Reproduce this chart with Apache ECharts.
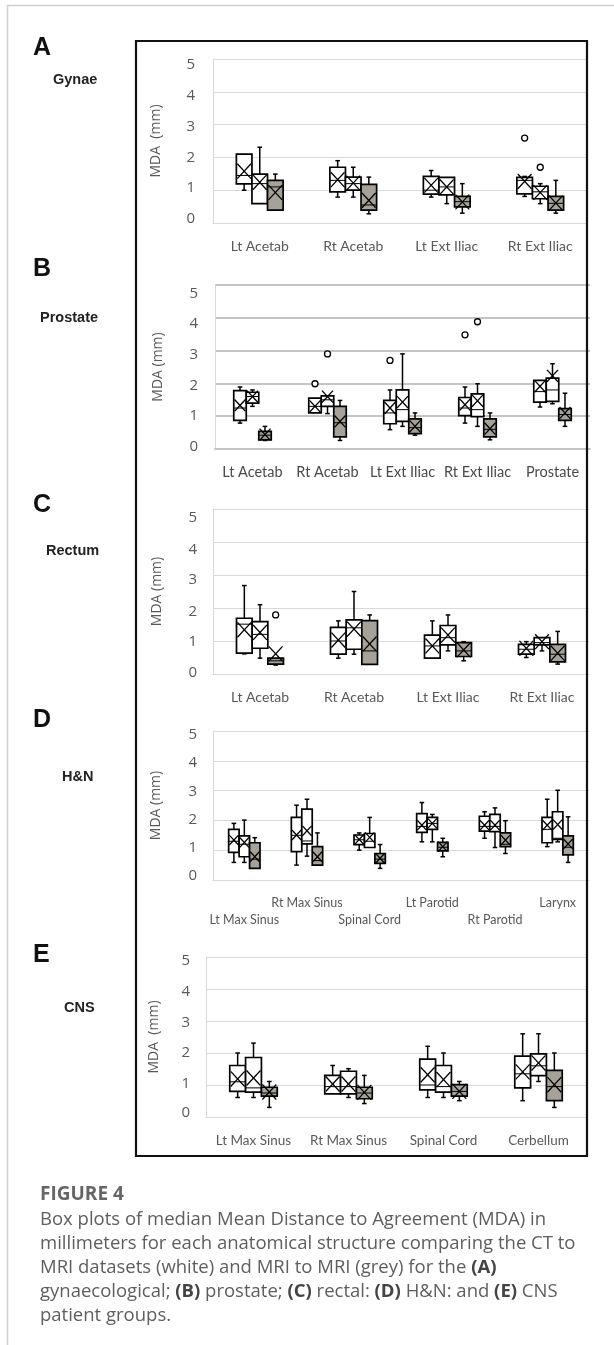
<!DOCTYPE html>
<html>
<head>
<meta charset="utf-8">
<script src="https://cdn.jsdelivr.net/npm/echarts@6/dist/echarts.min.js"></script>
<style>
  html, body { margin:0; padding:0; background:#fff; }
  #wrap { position:relative; width:614px; height:1345px; overflow:hidden; }
  #chart { position:absolute; left:0; top:0; width:614px; height:1345px; }
  #cap { position:absolute; left:40px; top:1180px; font-family:'Open Sans', sans-serif; color:#5e5e5e; pointer-events:none; }
  #cap .t { font-weight:700; font-size:19px; line-height:26px; color:#666; }
  #cap .b { font-size:18.5px; line-height:24px; white-space:nowrap; }
  #cap b { color:#444; }
</style>
</head>
<body>
<div id="wrap">
  <div id="chart"></div>
  <div id="cap">
    <div class="t">FIGURE 4</div>
    <div class="b">Box plots of median Mean Distance to Agreement (MDA) in<br>millimeters for each anatomical structure comparing the CT to<br>MRI datasets (white) and MRI to MRI (grey) for the <b>(A)</b><br>gynaecological; <b>(B)</b> prostate; <b>(C)</b> rectal: <b>(D)</b> H&amp;N: and <b>(E)</b> CNS<br>patient groups.</div>
  </div>
</div>
<script>
// ---- DATA: each box = [min, q1, median, q3, max, mean] ----
const yTicks = [0, 1, 2, 3, 4, 5];

// (A) Gynae
const gynaeCats = ['Lt Acetab', 'Rt Acetab', 'Lt Ext Iliac', 'Rt Ext Iliac'];
const gynaeCtMriA = [[1.00,1.19,1.45,2.10,2.10,1.58],[0.79,0.95,1.30,1.70,1.90,1.32],[0.79,0.88,1.00,1.42,1.60,1.15],[0.81,0.89,1.30,1.39,1.42,1.27]];
const gynaeCtMriB = [[0.59,0.59,1.20,1.49,2.31,1.24],[0.79,1.00,1.20,1.40,1.70,1.22],[0.59,0.86,1.10,1.39,1.39,1.10],[0.59,0.74,0.95,1.12,1.20,0.93]];
const gynaeMriMri = [[0.39,0.39,1.10,1.30,1.49,0.93],[0.28,0.39,0.55,1.18,1.40,0.69],[0.30,0.49,0.65,0.81,1.20,0.64],[0.30,0.39,0.60,0.81,1.30,0.61]];
const gynaeOutliers = [[3,0,2.59],[3,1,1.70]]; // [category, box, value]

// (B) Prostate
const prostateCats = ['Lt Acetab', 'Rt Acetab', 'Lt Ext Iliac', 'Rt Ext Iliac', 'Prostate'];
const prostateCtMriA = [[0.79,0.87,1.25,1.78,1.89,1.33],[1.10,1.10,1.30,1.55,1.55,1.30],[0.59,0.77,1.10,1.48,1.80,1.25],[0.79,1.02,1.25,1.57,1.89,1.35],[1.28,1.43,1.75,2.09,2.09,1.91]];
const prostateCtMriB = [[1.30,1.40,1.60,1.73,1.80,1.60],[1.08,1.30,1.50,1.62,1.62,1.60],[0.69,0.84,1.20,1.80,2.90,1.43],[0.69,0.99,1.20,1.68,1.99,1.47],[1.38,1.45,1.80,2.16,2.60,2.23]];
const prostateMriMri = [[0.26,0.28,0.42,0.54,0.69,0.44],[0.26,0.37,0.80,1.30,1.48,0.84],[0.42,0.47,0.65,0.92,1.10,0.69],[0.28,0.37,0.60,0.92,1.10,0.62],[0.69,0.87,1.05,1.23,1.70,1.10]];
const prostateOutliers = [[1,0,1.99],[1,1,2.90],[2,0,2.70],[3,0,3.48],[3,1,3.88]];

// (C) Rectum
const rectumCats = ['Lt Acetab', 'Rt Acetab', 'Lt Ext Iliac', 'Rt Ext Iliac'];
const rectumCtMriA = [[0.61,0.63,1.51,1.69,2.68,1.34],[0.48,0.60,1.00,1.41,1.61,1.03],[0.48,0.48,0.85,1.18,1.61,0.85],[0.50,0.60,0.75,0.90,0.98,0.78]];
const rectumCtMriB = [[0.48,0.78,1.20,1.59,2.10,1.26],[0.60,0.75,1.40,1.64,2.50,1.36],[0.70,0.88,1.10,1.47,1.79,1.18],[0.70,0.88,0.95,1.10,1.10,0.98]];
const rectumMriMri = [[0.27,0.30,0.40,0.48,0.48,0.61],[0.29,0.29,0.70,1.62,1.79,0.91],[0.40,0.53,0.70,0.95,0.98,0.73],[0.30,0.37,0.60,0.90,1.29,0.63]];
const rectumOutliers = [[0,2,1.79]];

// (D) H&N
const hnCats = ['Lt Max Sinus', 'Rt Max Sinus', 'Spinal Cord', 'Lt Parotid', 'Rt Parotid', 'Larynx'];
const hnCtMriA = [[0.59,0.93,1.30,1.70,1.90,1.34],[0.50,0.95,1.50,2.10,2.51,1.51],[1.00,1.19,1.35,1.51,1.58,1.36],[1.28,1.60,1.80,2.23,2.60,1.84],[1.40,1.64,1.80,2.14,2.29,1.84],[1.12,1.25,1.70,2.10,2.71,1.84]];
const hnCtMriB = [[0.59,0.78,1.20,1.48,2.01,1.26],[0.80,1.21,1.31,2.38,2.71,1.65],[1.09,1.09,1.30,1.56,2.10,1.43],[1.28,1.70,1.90,2.10,2.20,1.90],[1.09,1.62,1.80,2.20,2.42,1.84],[1.28,1.36,1.40,2.29,3.01,1.86]];
const hnMriMri = [[0.39,0.39,0.70,1.25,1.42,0.78],[0.50,0.50,0.65,1.12,1.58,0.78],[0.39,0.56,0.70,0.89,1.19,0.73],[0.78,0.98,1.10,1.26,1.40,1.12],[0.89,1.12,1.20,1.58,1.99,1.34],[0.59,0.84,1.10,1.48,2.12,1.21]];
const hnOutliers = [];

// (E) CNS
const cnsCats = ['Lt Max Sinus', 'Rt Max Sinus', 'Spinal Cord', 'Cerbellum'];
const cnsCtMriA = [[0.61,0.80,1.10,1.61,2.00,1.19],[0.72,0.72,0.95,1.30,1.61,1.03],[0.61,0.85,1.00,1.81,2.21,1.32],[0.51,0.91,1.35,1.90,2.60,1.41]];
const cnsCtMriB = [[0.61,0.78,0.91,1.86,2.31,1.22],[0.61,0.72,0.95,1.43,1.51,1.03],[0.61,0.78,0.95,1.61,2.00,1.17],[1.11,1.29,1.60,1.97,2.60,1.69]];
const cnsMriMri = [[0.30,0.65,0.75,0.93,1.11,0.78],[0.42,0.57,0.75,0.93,1.30,0.77],[0.51,0.65,0.80,1.01,1.11,0.80],[0.30,0.51,0.95,1.46,2.00,1.01]];
const cnsOutliers = [];

// ---- LAYOUT / STYLE ----
const panels = [
  { cats: gynaeCats, sets: [gynaeCtMriA, gynaeCtMriB, gynaeMriMri], out: gynaeOutliers,
    grid: { left: 213, top: 59, width: 374, height: 164 }, yName: 'MDA  (mm)', nameGap: 50, yMargin: 18,
    tickShift: [-4, -2.3, 0, 1.7, 3.7, 5.7], split: { color: '#d9d9d9', width: 1 }, catSize: 14, catColor: '#595959', stagger: false },
  { cats: prostateCats, sets: [prostateCtMriA, prostateCtMriB, prostateMriMri], out: prostateOutliers,
    grid: { left: 215, top: 285, width: 375, height: 164 }, yName: 'MDA (mm)', nameGap: 50, yMargin: 17,
    tickShift: [-2.7, -0.7, 2, 3.7, 6.3, 8.3], split: { color: '#c4c4c4', width: 2 }, catSize: 14.5, catColor: '#4a4a4a', stagger: false },
  { cats: rectumCats, sets: [rectumCtMriA, rectumCtMriB, rectumMriMri], out: rectumOutliers,
    grid: { left: 213, top: 509, width: 376, height: 165 }, yName: 'MDA (mm)', nameGap: 49, yMargin: 16,
    tickShift: [-1.3, 0.7, 3.3, 4.3, 7.3, 9], split: { color: '#d9d9d9', width: 1 }, catSize: 14, catColor: '#595959', stagger: false },
  { cats: hnCats, sets: [hnCtMriA, hnCtMriB, hnMriMri], out: hnOutliers,
    grid: { left: 213, top: 731, width: 376, height: 149 }, yName: 'MDA (mm)', nameGap: 50, yMargin: 16,
    tickShift: [-4.3, -2.7, -0.3, 0.7, 2, 3.7], split: { color: '#d9d9d9', width: 1 }, catSize: 12.5, catColor: '#595959', stagger: true },
  { cats: cnsCats, sets: [cnsCtMriA, cnsCtMriB, cnsMriMri], out: cnsOutliers,
    grid: { left: 206, top: 957, width: 380, height: 160 }, yName: 'MDA  (mm)', nameGap: 45, yMargin: 16,
    tickShift: [-4, -1.7, 0, 1.7, 2.3, 3.7], split: { color: '#d9d9d9', width: 1 }, catSize: 13.5, catColor: '#595959', stagger: false }
];

const fills = ['#ffffff', '#ffffff', '#a6a299'];

function boxRenderer(k, fill) {
  return function (params, api) {
    const c = api.value(0);
    const band = api.size([1, 0])[0];
    const bw = band / 6;
    const half = bw / 2;
    const cx = api.coord([c, 0])[0] + (k - 1) * bw;
    const yMin = api.coord([c, api.value(1)])[1];
    const yQ1 = api.coord([c, api.value(2)])[1];
    const yMed = api.coord([c, api.value(3)])[1];
    const yQ3 = api.coord([c, api.value(4)])[1];
    const yMax = api.coord([c, api.value(5)])[1];
    const yMean = api.coord([c, api.value(6)])[1];
    const ls = { stroke: '#000', lineWidth: 1.5 };
    const cap = 2.3;
    const sx = half * 0.88, sy = half * 0.95;
    const ch = [];
    if (yMax < yQ3 - 0.5) {
      ch.push({ type: 'line', shape: { x1: cx, y1: yMax, x2: cx, y2: yQ3 }, style: ls });
      ch.push({ type: 'line', shape: { x1: cx - cap, y1: yMax, x2: cx + cap, y2: yMax }, style: ls });
    }
    if (yMin > yQ1 + 0.5) {
      ch.push({ type: 'line', shape: { x1: cx, y1: yQ1, x2: cx, y2: yMin }, style: ls });
      ch.push({ type: 'line', shape: { x1: cx - cap, y1: yMin, x2: cx + cap, y2: yMin }, style: ls });
    }
    ch.push({ type: 'rect', shape: { x: cx - half, y: yQ3, width: bw, height: yQ1 - yQ3 }, style: { fill: fill, stroke: '#000', lineWidth: 1.7 } });
    ch.push({ type: 'line', shape: { x1: cx - half, y1: yMed, x2: cx + half, y2: yMed }, style: { stroke: '#000', lineWidth: 1 } });
    ch.push({ type: 'line', shape: { x1: cx - sx, y1: yMean - sy, x2: cx + sx, y2: yMean + sy }, style: { stroke: '#000', lineWidth: 1.3 } });
    ch.push({ type: 'line', shape: { x1: cx - sx, y1: yMean + sy, x2: cx + sx, y2: yMean - sy }, style: { stroke: '#000', lineWidth: 1.3 } });
    return { type: 'group', children: ch };
  };
}

function outlierRenderer(params, api) {
  const c = api.value(0);
  const k = api.value(1);
  const band = api.size([1, 0])[0];
  const bw = band / 6;
  const cx = api.coord([c, 0])[0] + (k - 1) * bw;
  const cy = api.coord([c, api.value(2)])[1];
  return { type: 'circle', shape: { cx: cx, cy: cy, r: 3 }, style: { fill: '#fff', stroke: '#000', lineWidth: 1.3 } };
}

function tickRich(shift) {
  const rich = {};
  yTicks.forEach(function (v, i) {
    const d = shift[i] || 0;
    rich['s' + v] = {
      fontFamily: 'Open Sans', fontSize: 15, color: '#595959',
      padding: d >= 0 ? [2 * d, 0, 0, 0] : [0, 0, -2 * d, 0]
    };
  });
  return rich;
}

const grids = [], xAxes = [], yAxes = [], series = [];
panels.forEach(function (p, i) {
  grids.push(Object.assign({ containLabel: false }, p.grid));
  xAxes.push({
    type: 'category', gridIndex: i, data: p.cats, boundaryGap: true,
    axisTick: { show: false },
    axisLine: { show: true, lineStyle: { color: p.split.color, width: p.split.width } },
    axisLabel: {
      interval: 0, margin: p.stagger ? 14 : 15, fontFamily: 'Lato', fontSize: p.catSize, color: p.catColor, lineHeight: 17,
      formatter: p.stagger ? function (v, idx) { return idx % 2 === 0 ? '\n' + v : v; } : null
    }
  });
  yAxes.push({
    type: 'value', gridIndex: i, min: yTicks[0], max: yTicks[yTicks.length - 1], interval: 1,
    axisLine: { show: true, lineStyle: { color: '#d9d9d9', width: 1 } },
    axisTick: { show: false },
    splitLine: { show: true, lineStyle: { color: p.split.color, width: p.split.width } },
    axisLabel: {
      margin: p.yMargin, fontFamily: 'Open Sans', fontSize: 15, color: '#595959',
      formatter: function (v) { return '{s' + v + '|' + v + '}'; },
      rich: tickRich(p.tickShift)
    },
    name: p.yName, nameLocation: 'middle', nameGap: p.nameGap, nameRotate: 90,
    nameTextStyle: { fontFamily: 'Open Sans', fontSize: 14, color: '#595959' }
  });
  p.sets.forEach(function (set, k) {
    series.push({
      type: 'custom', xAxisIndex: i, yAxisIndex: i, clip: false, z: 3,
      renderItem: boxRenderer(k, fills[k]),
      encode: { x: 0, y: [1, 2, 3, 4, 5, 6] },
      data: set.map(function (d, c) { return [c].concat(d); })
    });
  });
  if (p.out.length) {
    series.push({
      type: 'custom', xAxisIndex: i, yAxisIndex: i, clip: false, z: 4,
      renderItem: outlierRenderer, encode: { x: 0, y: 2 },
      data: p.out
    });
  }
});

const labelFont = 'Liberation Sans';
const panelLetters = [
  { t: 'A', y: 48, n: 'Gynae', nx: 53, ny: 80 },
  { t: 'B', y: 269, n: 'Prostate', nx: 40, ny: 318 },
  { t: 'C', y: 505, n: 'Rectum', nx: 46, ny: 551 },
  { t: 'D', y: 720, n: 'H&N', nx: 62, ny: 777 },
  { t: 'E', y: 955, n: 'CNS', nx: 64, ny: 1008 }
];
const graphics = [
  { type: 'line', shape: { x1: 7.5, y1: 5, x2: 7.5, y2: 1345 }, style: { stroke: '#cfcfcf', lineWidth: 1.5 }, z: 10 },
  { type: 'line', shape: { x1: 7, y1: 5.5, x2: 614, y2: 5.5 }, style: { stroke: '#cfcfcf', lineWidth: 1.5 }, z: 10 },
  { type: 'rect', shape: { x: 136, y: 41, width: 451, height: 1115 }, style: { fill: 'none', stroke: '#111', lineWidth: 2.2 }, z: 10 }
];
panelLetters.forEach(function (l) {
  graphics.push({ type: 'text', x: 33, y: l.y, style: { text: l.t, fontFamily: labelFont, fontWeight: 'bold', fontSize: 25, fill: '#111', verticalAlign: 'middle', align: 'left' }, z: 10 });
  graphics.push({ type: 'text', x: l.nx, y: l.ny, style: { text: l.n, fontFamily: labelFont, fontWeight: 'bold', fontSize: 14.5, fill: '#222', verticalAlign: 'middle', align: 'left' }, z: 10 });
});

const chart = echarts.init(document.getElementById('chart'), null, { renderer: 'canvas' });
chart.setOption({
  animation: false,
  backgroundColor: '#fff',
  grid: grids, xAxis: xAxes, yAxis: yAxes, series: series,
  graphic: graphics
});
</script>
</body>
</html>
